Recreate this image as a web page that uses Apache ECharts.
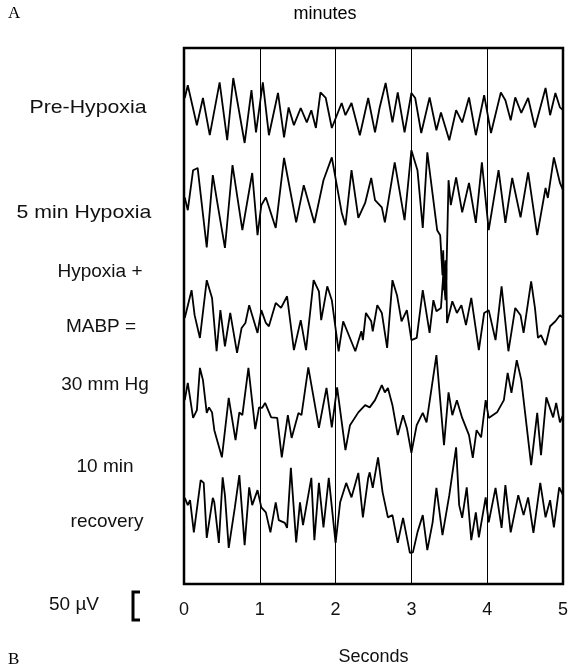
<!DOCTYPE html>
<html>
<head>
<meta charset="utf-8">
<script src="https://cdn.jsdelivr.net/npm/echarts@6/dist/echarts.min.js"></script>
<style>
  html, body { margin: 0; padding: 0; background: #fff; }
  #main { width: 571px; height: 672px; }
</style>
</head>
<body>
<div id="main"></div>
<script>
// EEG traces, [seconds, microvolts] (peaks and troughs)
var preHypoxia = [[0.01,22],[0.05,45],[0.17,-27],[0.25,22],[0.34,-45],[0.47,50],[0.57,-54],[0.65,58],[0.80,-59],[0.89,36],[0.95,-40],[1.04,50],[1.12,-45],[1.24,31],[1.32,-49],[1.38,5],[1.45,-27],[1.54,4],[1.62,-22],[1.68,0],[1.74,-32],[1.80,32],[1.87,22],[1.95,-32],[2.08,13],[2.13,-9],[2.21,13],[2.32,-45],[2.43,22],[2.52,-40],[2.58,4],[2.66,49],[2.75,-22],[2.82,32],[2.91,-40],[3.00,31],[3.05,22],[3.13,-41],[3.24,23],[3.33,-36],[3.39,-4],[3.50,-54],[3.59,0],[3.67,-22],[3.76,23],[3.85,-45],[3.96,27],[4.05,-41],[4.18,32],[4.24,18],[4.31,-18],[4.37,23],[4.45,-5],[4.54,22],[4.63,-31],[4.77,40],[4.83,-9],[4.90,31],[4.96,5],[5.00,0]];

var hypoxia5 = [[0.01,5],[0.05,-18],[0.12,54],[0.18,58],[0.30,-85],[0.38,45],[0.44,-5],[0.54,-86],[0.64,63],[0.77,-54],[0.90,49],[0.97,-63],[1.02,-9],[1.08,5],[1.21,-50],[1.32,76],[1.48,-40],[1.58,27],[1.72,-41],[1.84,36],[1.95,77],[2.08,-22],[2.13,-45],[2.21,54],[2.30,-32],[2.39,-5],[2.47,40],[2.52,0],[2.61,-13],[2.65,-40],[2.78,68],[2.91,-36],[3.00,90],[3.08,54],[3.15,-50],[3.21,86],[3.34,-54],[3.38,-63],[3.41,-135],[3.42,-90],[3.43,-162],[3.45,-108],[3.46,-144],[3.49,36],[3.52,-9],[3.59,41],[3.67,-22],[3.76,31],[3.85,-41],[3.93,68],[4.02,-54],[4.15,54],[4.24,-41],[4.33,40],[4.44,-31],[4.54,50],[4.66,-63],[4.77,22],[4.80,4],[4.88,77],[4.96,31],[5.00,18]];

var hypoxiaMabpA = [[0.01,-23],[0.10,27],[0.14,-18],[0.21,-59],[0.30,45],[0.37,13],[0.43,-83],[0.48,-9],[0.54,-74],[0.61,-14],[0.70,-86],[0.76,-41],[0.81,-32],[0.86,0],[0.97,-50],[1.02,-9],[1.08,-32],[1.12,-38],[1.21,4],[1.28,-5],[1.36,16],[1.45,-81],[1.54,-27],[1.61,-81],[1.71,45],[1.78,25],[1.81,-27],[1.89,34],[1.95,9],[2.04,-83],[2.10,-29],[2.26,-83],[2.34,-47],[2.36,-63],[2.40,-14],[2.47,-29],[2.49,-47],[2.55,0],[2.61,-14],[2.68,-77],[2.75,45],[2.81,18],[2.87,-29],[2.94,-9],[3.00,-63],[3.07,-59],[3.15,27],[3.24,-50],[3.29,9],[3.33,-11],[3.39,-5],[3.42,54],[3.45,9],[3.46,67],[3.47,-32],[3.54,7],[3.60,-14],[3.66,0],[3.72,-36],[3.79,13],[3.89,-81],[3.96,-14],[4.02,-9],[4.11,-63],[4.19,34],[4.28,-83],[4.37,-5],[4.44,-18],[4.48,-50],[4.58,43],[4.63,-5],[4.67,-59],[4.71,-54],[4.77,-72],[4.83,-38],[4.90,-29],[4.96,-18],[5.00,-23]];

var hypoxiaMabpB = [[0.01,0],[0.05,31],[0.12,-32],[0.17,-18],[0.21,58],[0.25,36],[0.30,-23],[0.33,-13],[0.37,-22],[0.40,-54],[0.50,-103],[0.59,4],[0.68,-72],[0.73,-22],[0.77,-27],[0.85,58],[0.94,-52],[0.99,-13],[1.03,-14],[1.07,-5],[1.15,-31],[1.23,-32],[1.29,-103],[1.37,-27],[1.42,-68],[1.51,-23],[1.55,-27],[1.64,59],[1.78,-50],[1.88,22],[1.95,-49],[2.02,23],[2.13,-90],[2.19,-45],[2.30,-22],[2.39,-9],[2.45,-13],[2.52,0],[2.61,27],[2.65,14],[2.69,22],[2.75,-9],[2.82,-63],[2.89,-27],[2.94,-50],[3.00,-95],[3.07,-45],[3.15,-23],[3.20,-40],[3.33,81],[3.43,-81],[3.49,14],[3.54,-27],[3.60,0],[3.67,-32],[3.76,-63],[3.81,-104],[3.86,-54],[3.92,-67],[3.98,0],[4.02,-32],[4.13,-22],[4.22,0],[4.27,49],[4.32,13],[4.39,72],[4.45,36],[4.58,-117],[4.66,-23],[4.71,-99],[4.78,5],[4.87,-31],[4.91,-5],[4.96,-40],[5.00,-27]];

var recovery10 = [[0.01,22],[0.05,9],[0.08,18],[0.13,-40],[0.22,54],[0.26,49],[0.30,-50],[0.38,22],[0.40,14],[0.46,-59],[0.51,59],[0.54,27],[0.59,-68],[0.67,4],[0.73,63],[0.80,-63],[0.86,41],[0.90,9],[0.97,36],[1.02,5],[1.08,-4],[1.14,-40],[1.21,14],[1.25,-18],[1.33,-23],[1.36,-32],[1.41,76],[1.48,-58],[1.53,14],[1.57,-27],[1.68,58],[1.72,-54],[1.78,49],[1.84,-31],[1.91,58],[2.00,-59],[2.06,14],[2.14,49],[2.21,23],[2.30,67],[2.36,-13],[2.43,58],[2.45,68],[2.49,40],[2.56,95],[2.62,32],[2.69,-13],[2.75,-9],[2.82,-59],[2.89,-14],[2.98,-77],[3.02,-76],[3.08,-40],[3.15,-9],[3.21,-72],[3.28,-22],[3.33,40],[3.41,-45],[3.50,27],[3.59,113],[3.63,9],[3.67,-14],[3.73,41],[3.79,-54],[3.85,-4],[3.89,-49],[3.98,23],[4.02,-22],[4.11,40],[4.19,-32],[4.24,45],[4.31,-40],[4.41,27],[4.48,-9],[4.54,23],[4.61,-41],[4.70,49],[4.77,-13],[4.83,18],[4.88,-31],[4.95,41],[5.00,27]];

var traces = [preHypoxia, hypoxia5, hypoxiaMabpA, hypoxiaMabpB, recovery10];
var offsets = [853, 691, 502, 331, 133];
var secondTicks = ['0', '1', '2', '3', '4', '5'];

var myChart = echarts.init(document.getElementById('main'));

var series = traces.map(function(tr, i) {
    return {
        type: 'line',
        showSymbol: false,
        silent: true,
        lineStyle: { color: '#000', width: 1.8 },
        data: tr.map(function(p) { return [p[0], p[1] + offsets[i]]; })
    };
});

var sans = 'Liberation Sans';
var serif = 'Liberation Serif';

function label(txt, x, y, sx) {
    return { type: 'text', x: x, y: y, scaleX: sx || 1,
        style: { text: txt, font: '19px ' + sans, fill: '#111', align: 'center', verticalAlign: 'middle' } };
}

var option = {
    backgroundColor: '#fff',
    animation: false,
    grid: {
        left: 184, right: 5, top: 48, bottom: 88,
        show: true, borderColor: '#000', borderWidth: 2.5
    },
    xAxis: {
        type: 'value', min: 0, max: 5, interval: 1,
        name: 'Seconds', nameLocation: 'middle', nameGap: 64,
        nameTextStyle: { fontFamily: sans, fontSize: 18, color: '#111' },
        axisLine: { show: false },
        axisTick: { show: false },
        axisLabel: {
            margin: 17, fontFamily: sans, fontSize: 18, color: '#111',
            formatter: function(v) { return secondTicks[Math.round(v)]; }
        },
        splitLine: { show: true, lineStyle: { color: '#000', width: 1 } }
    },
    yAxis: {
        type: 'value', min: 0, max: 965,
        show: false, splitLine: { show: false }
    },
    graphic: [
        { type: 'text', x: 8, y: 14, style: { text: 'A', font: '17px ' + serif, fill: '#000', verticalAlign: 'middle' } },
        { type: 'text', x: 8, y: 660, style: { text: 'B', font: '17px ' + serif, fill: '#000', verticalAlign: 'middle' } },
        { type: 'text', x: 325, y: 14, style: { text: 'minutes', font: '18px ' + sans, fill: '#000', align: 'center', verticalAlign: 'middle' } },
        label('Pre-Hypoxia', 88, 108, 1.12),
        label('5 min Hypoxia', 84, 213, 1.12),
        label('Hypoxia +', 100, 272),
        label('MABP =', 101, 327),
        label('30 mm Hg', 105, 385),
        label('10 min', 105, 467),
        label('recovery', 107, 522),
        label('50 µV', 74, 605),
        { type: 'polyline', shape: { points: [[140, 592], [133, 592], [133, 620], [140, 620]] }, style: { stroke: '#000', lineWidth: 3, fill: null } }
    ],
    series: series
};

myChart.setOption(option);
</script>
</body>
</html>
